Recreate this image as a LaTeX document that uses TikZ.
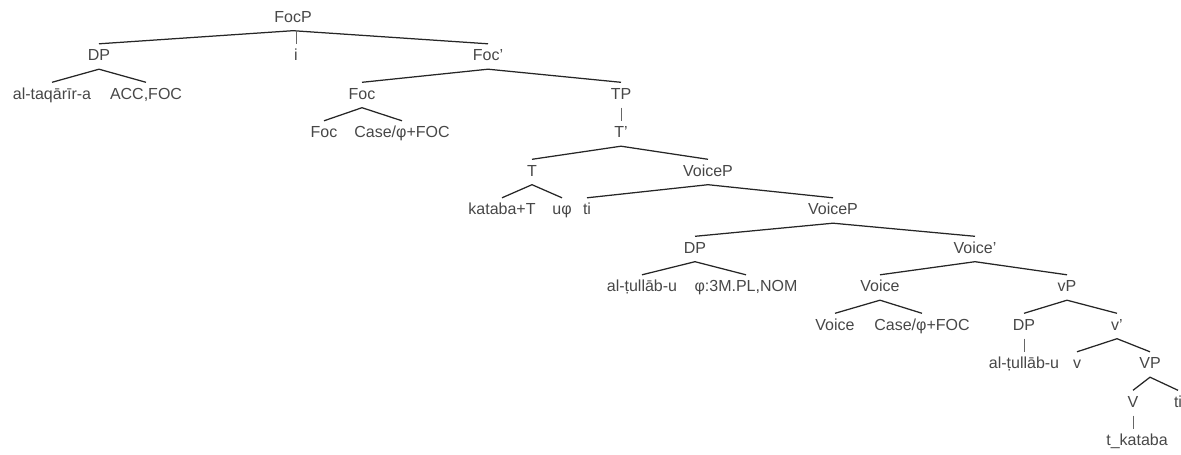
\documentclass[tikz,border=0pt]{standalone}
\usepackage{fontspec}
\setmainfont{Liberation Sans}
\begin{document}
\begin{tikzpicture}[x=1pt,y=1pt,
  lab/.style={font=\fontsize{16}{18}\selectfont, text=black!72, inner xsep=0pt, inner ysep=5.25pt, text height=11.5pt, text depth=3pt},
  br/.style={line width=1.25pt, black!85},
  stem/.style={line width=0.8pt, black!60}]
\useasboundingbox (0,0) rectangle (1181,-455);
% level 0
\node[lab] (focp) at (293,-18) {FocP};
% level 1
\node[lab] (dp1) at (99,-56.5) {DP};
\node[lab] (i) at (296,-56.5) {i};
\node[lab] (focbar) at (488,-56.5) {Foc'};
% level 2
\node[lab] (taq) at (52,-95) {al-taqārīr-a};
\node[lab] (acc) at (146,-95) {ACC,FOC};
\node[lab] (foc) at (362,-95) {Foc};
\node[lab] (tp) at (621,-95) {TP};
% level 3
\node[lab] (focl) at (324,-133.5) {Foc};
\node[lab] (case1) at (402,-133.5) {Case/φ+FOC};
\node[lab] (tbar) at (621,-133.5) {T'};
% level 4
\node[lab] (t) at (532,-172) {T};
\node[lab] (vcp1) at (708,-172) {VoiceP};
% level 5
\node[lab] (kat) at (502,-210.5) {kataba+T};
\node[lab] (uphi) at (562,-210.5) {uφ};
\node[lab] (ti1) at (587,-210.5) {ti};
\node[lab] (vcp2) at (833,-210.5) {VoiceP};
% level 6
\node[lab] (dp2) at (695,-249) {DP};
\node[lab] (vbar) at (975,-249) {Voice'};
% level 7
\node[lab] (tul1) at (642,-287.5) {al-ṭullāb-u};
\node[lab] (phi) at (746,-287.5) {φ:3M.PL,NOM};
\node[lab] (voice) at (880,-287.5) {Voice};
\node[lab] (vp) at (1067,-287.5) {vP};
% level 8
\node[lab] (voicel) at (835,-326) {Voice};
\node[lab] (case2) at (922,-326) {Case/φ+FOC};
\node[lab] (dp3) at (1024,-326) {DP};
\node[lab] (vbar2) at (1117,-326) {v'};
% level 9
\node[lab] (tul2) at (1024,-364.5) {al-ṭullāb-u};
\node[lab] (vsmall) at (1077,-364.5) {v};
\node[lab] (VP) at (1150,-364.5) {VP};
% level 10
\node[lab] (V) at (1133,-403) {V};
\node[lab] (ti2) at (1178,-403) {ti};
% level 11
\node[lab] (tkat) at (1137,-441.5) {t\_kataba};

% branches
\draw[br] (dp1.north) -- (focp.south) -- (focbar.north);
\draw[stem] (focp.south -| i.north) -- (i.north);
\draw[br] (taq.north) -- (dp1.south) -- (acc.north);
\draw[br] (foc.north) -- (focbar.south) -- (tp.north);
\draw[br] (focl.north) -- (foc.south) -- (case1.north);
\draw[stem] (tp.south) -- (tbar.north);
\draw[br] (t.north) -- (tbar.south) -- (vcp1.north);
\draw[br] (kat.north) -- (t.south) -- (uphi.north);
\draw[br] (ti1.north) -- (vcp1.south) -- (vcp2.north);
\draw[br] (dp2.north) -- (vcp2.south) -- (vbar.north);
\draw[br] (tul1.north) -- (dp2.south) -- (phi.north);
\draw[br] (voice.north) -- (vbar.south) -- (vp.north);
\draw[br] (voicel.north) -- (voice.south) -- (case2.north);
\draw[br] (dp3.north) -- (vp.south) -- (vbar2.north);
\draw[stem] (dp3.south) -- (tul2.north);
\draw[br] (vsmall.north) -- (vbar2.south) -- (VP.north);
\draw[br] (V.north) -- (VP.south) -- (ti2.north);
\draw[stem] (V.south) -- (V.south |- tkat.north);
\end{tikzpicture}
\end{document}
